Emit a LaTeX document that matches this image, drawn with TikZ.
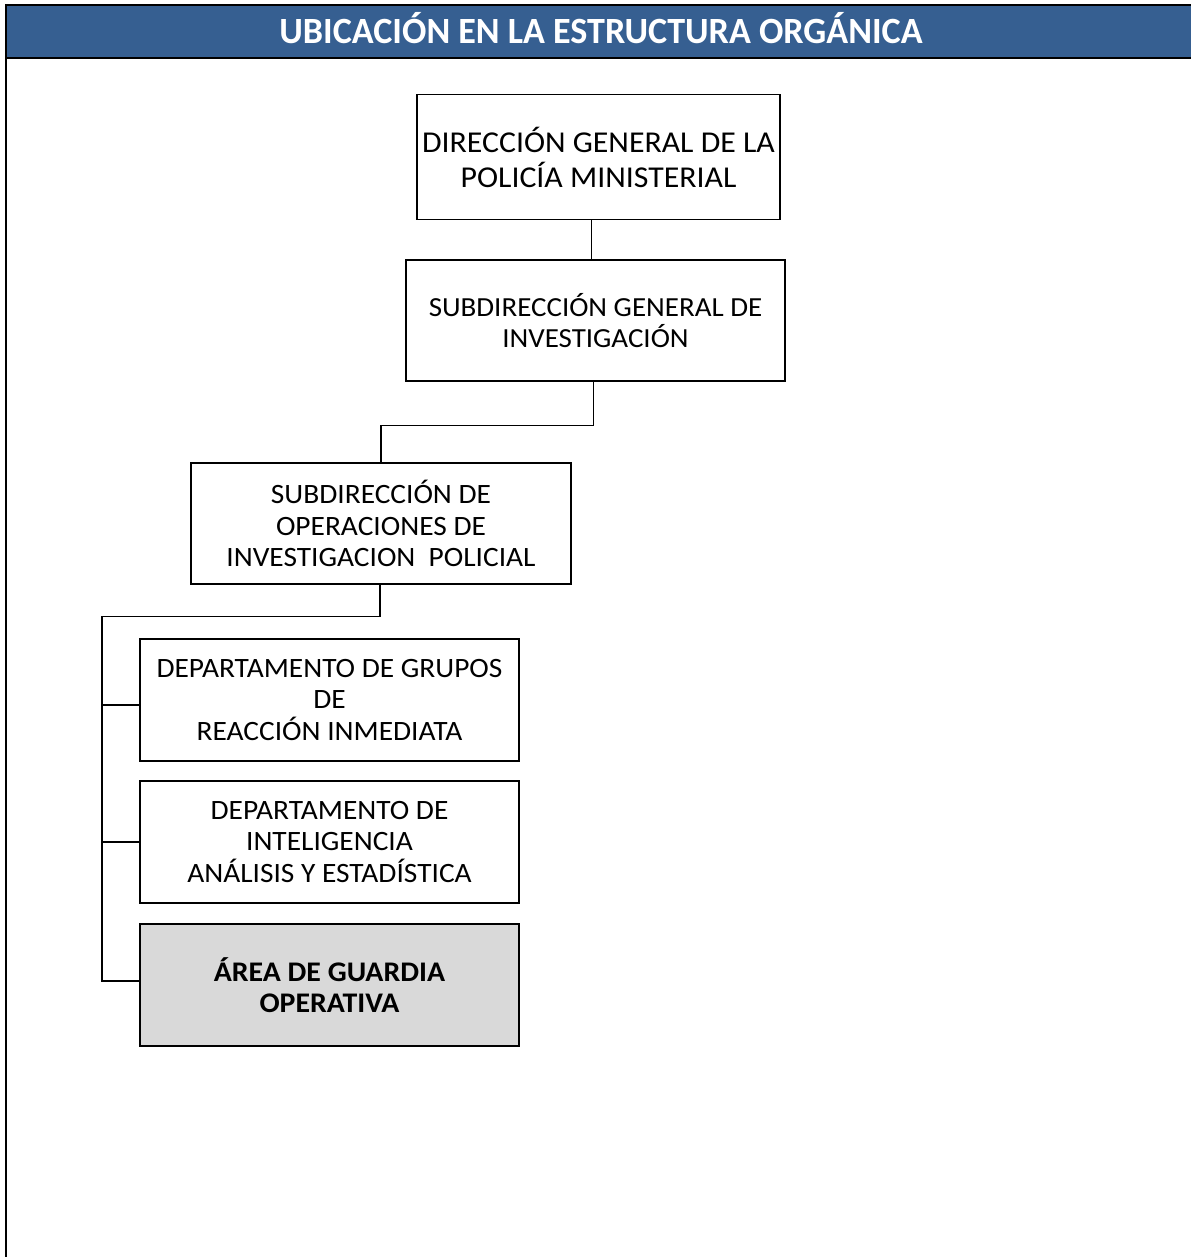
\documentclass[tikz,border=0pt]{standalone}
\usepackage{fontspec}
\setmainfont{Carlito}
\newfontfamily\boxfont[FakeStretch=1.05]{Carlito}
\newfontfamily\headfont[FakeStretch=0.975]{Carlito}
\usetikzlibrary{calc}
\definecolor{headblue}{HTML}{365F91}
\definecolor{areagray}{HTML}{D9D9D9}
\begin{document}
\begin{tikzpicture}[x=0.5pt,y=-0.5pt,
  orgbox/.style={draw=black, line width=0.65pt, align=center, inner sep=0pt,
    minimum width=189.5pt, minimum height=61pt,
    font=\boxfont\fontsize{14}{15.75}\selectfont},
  link/.style={draw=black, line width=0.6pt},
  frameline/.style={draw=black, line width=1.1pt}]
\useasboundingbox (0,0) rectangle (1191,1257);

% header band and outer frame
\fill[headblue] (6,5) rectangle (1191,58);
\draw[frameline] (6,5) -- (1191,5);
\draw[frameline] (6,58) -- (1191,58);
\draw[frameline] (6,4.5) -- (6,1257);
\node[text=white, font=\headfont\bfseries\fontsize{18.5}{20}\selectfont] (title) at (601,28)
  {UBICACIÓN EN LA ESTRUCTURA ORGÁNICA};

% organisation boxes
\node[orgbox, minimum width=181.5pt, minimum height=62.5pt,
  font=\boxfont\fontsize{15.15}{17.5}\selectfont] (dg) at (598.5,157)
  {DIRECCIÓN GENERAL DE LA\\POLICÍA MINISTERIAL};
\node[orgbox, minimum height=60.5pt,
  font=\boxfont\fontsize{13.8}{15.5}\selectfont] (sgi) at (595.5,320.5)
  {SUBDIRECCIÓN GENERAL DE\\INVESTIGACIÓN};
\node[orgbox, minimum width=190pt, minimum height=60.5pt] (soip) at (381,523.5)
  {SUBDIRECCIÓN DE\\OPERACIONES DE\\INVESTIGACION\ \ POLICIAL};
\node[orgbox] (dgri) at (329.5,700)
  {DEPARTAMENTO DE GRUPOS\\DE\\REACCIÓN INMEDIATA};
\node[orgbox] (diae) at (329.5,842)
  {DEPARTAMENTO DE\\INTELIGENCIA\\ANÁLISIS Y ESTADÍSTICA};
\node[orgbox, fill=areagray, font=\boxfont\bfseries\fontsize{14.2}{15.75}\selectfont] (agop) at (329.5,985)
  {ÁREA DE GUARDIA\\OPERATIVA};

% connectors
\coordinate (d0) at ($(dg.south)+(-7,0)$);
\coordinate (j1) at ($(sgi.south)+(-2,44)$);
\coordinate (j2) at ($(soip.south)+(-1,32)$);
\coordinate (spine) at (102,0);
\coordinate (a0) at ($(agop.west)+(0,-4)$);
\draw[link] (d0) -- (d0 |- sgi.north);
\draw[link] ($(sgi.south)+(-2,0)$) -- (j1) -- (j1 -| soip.north) -- (soip.north);
\draw[link] ($(soip.south)+(-1,0)$) -- (j2) -- (j2 -| spine) -- (spine |- a0) -- (a0);
\draw[link] ($(spine |- dgri.west)+(0,5)$) -- ($(dgri.west)+(0,5)$);
\draw[link] (spine |- diae.west) -- (diae.west);
\end{tikzpicture}
\end{document}
